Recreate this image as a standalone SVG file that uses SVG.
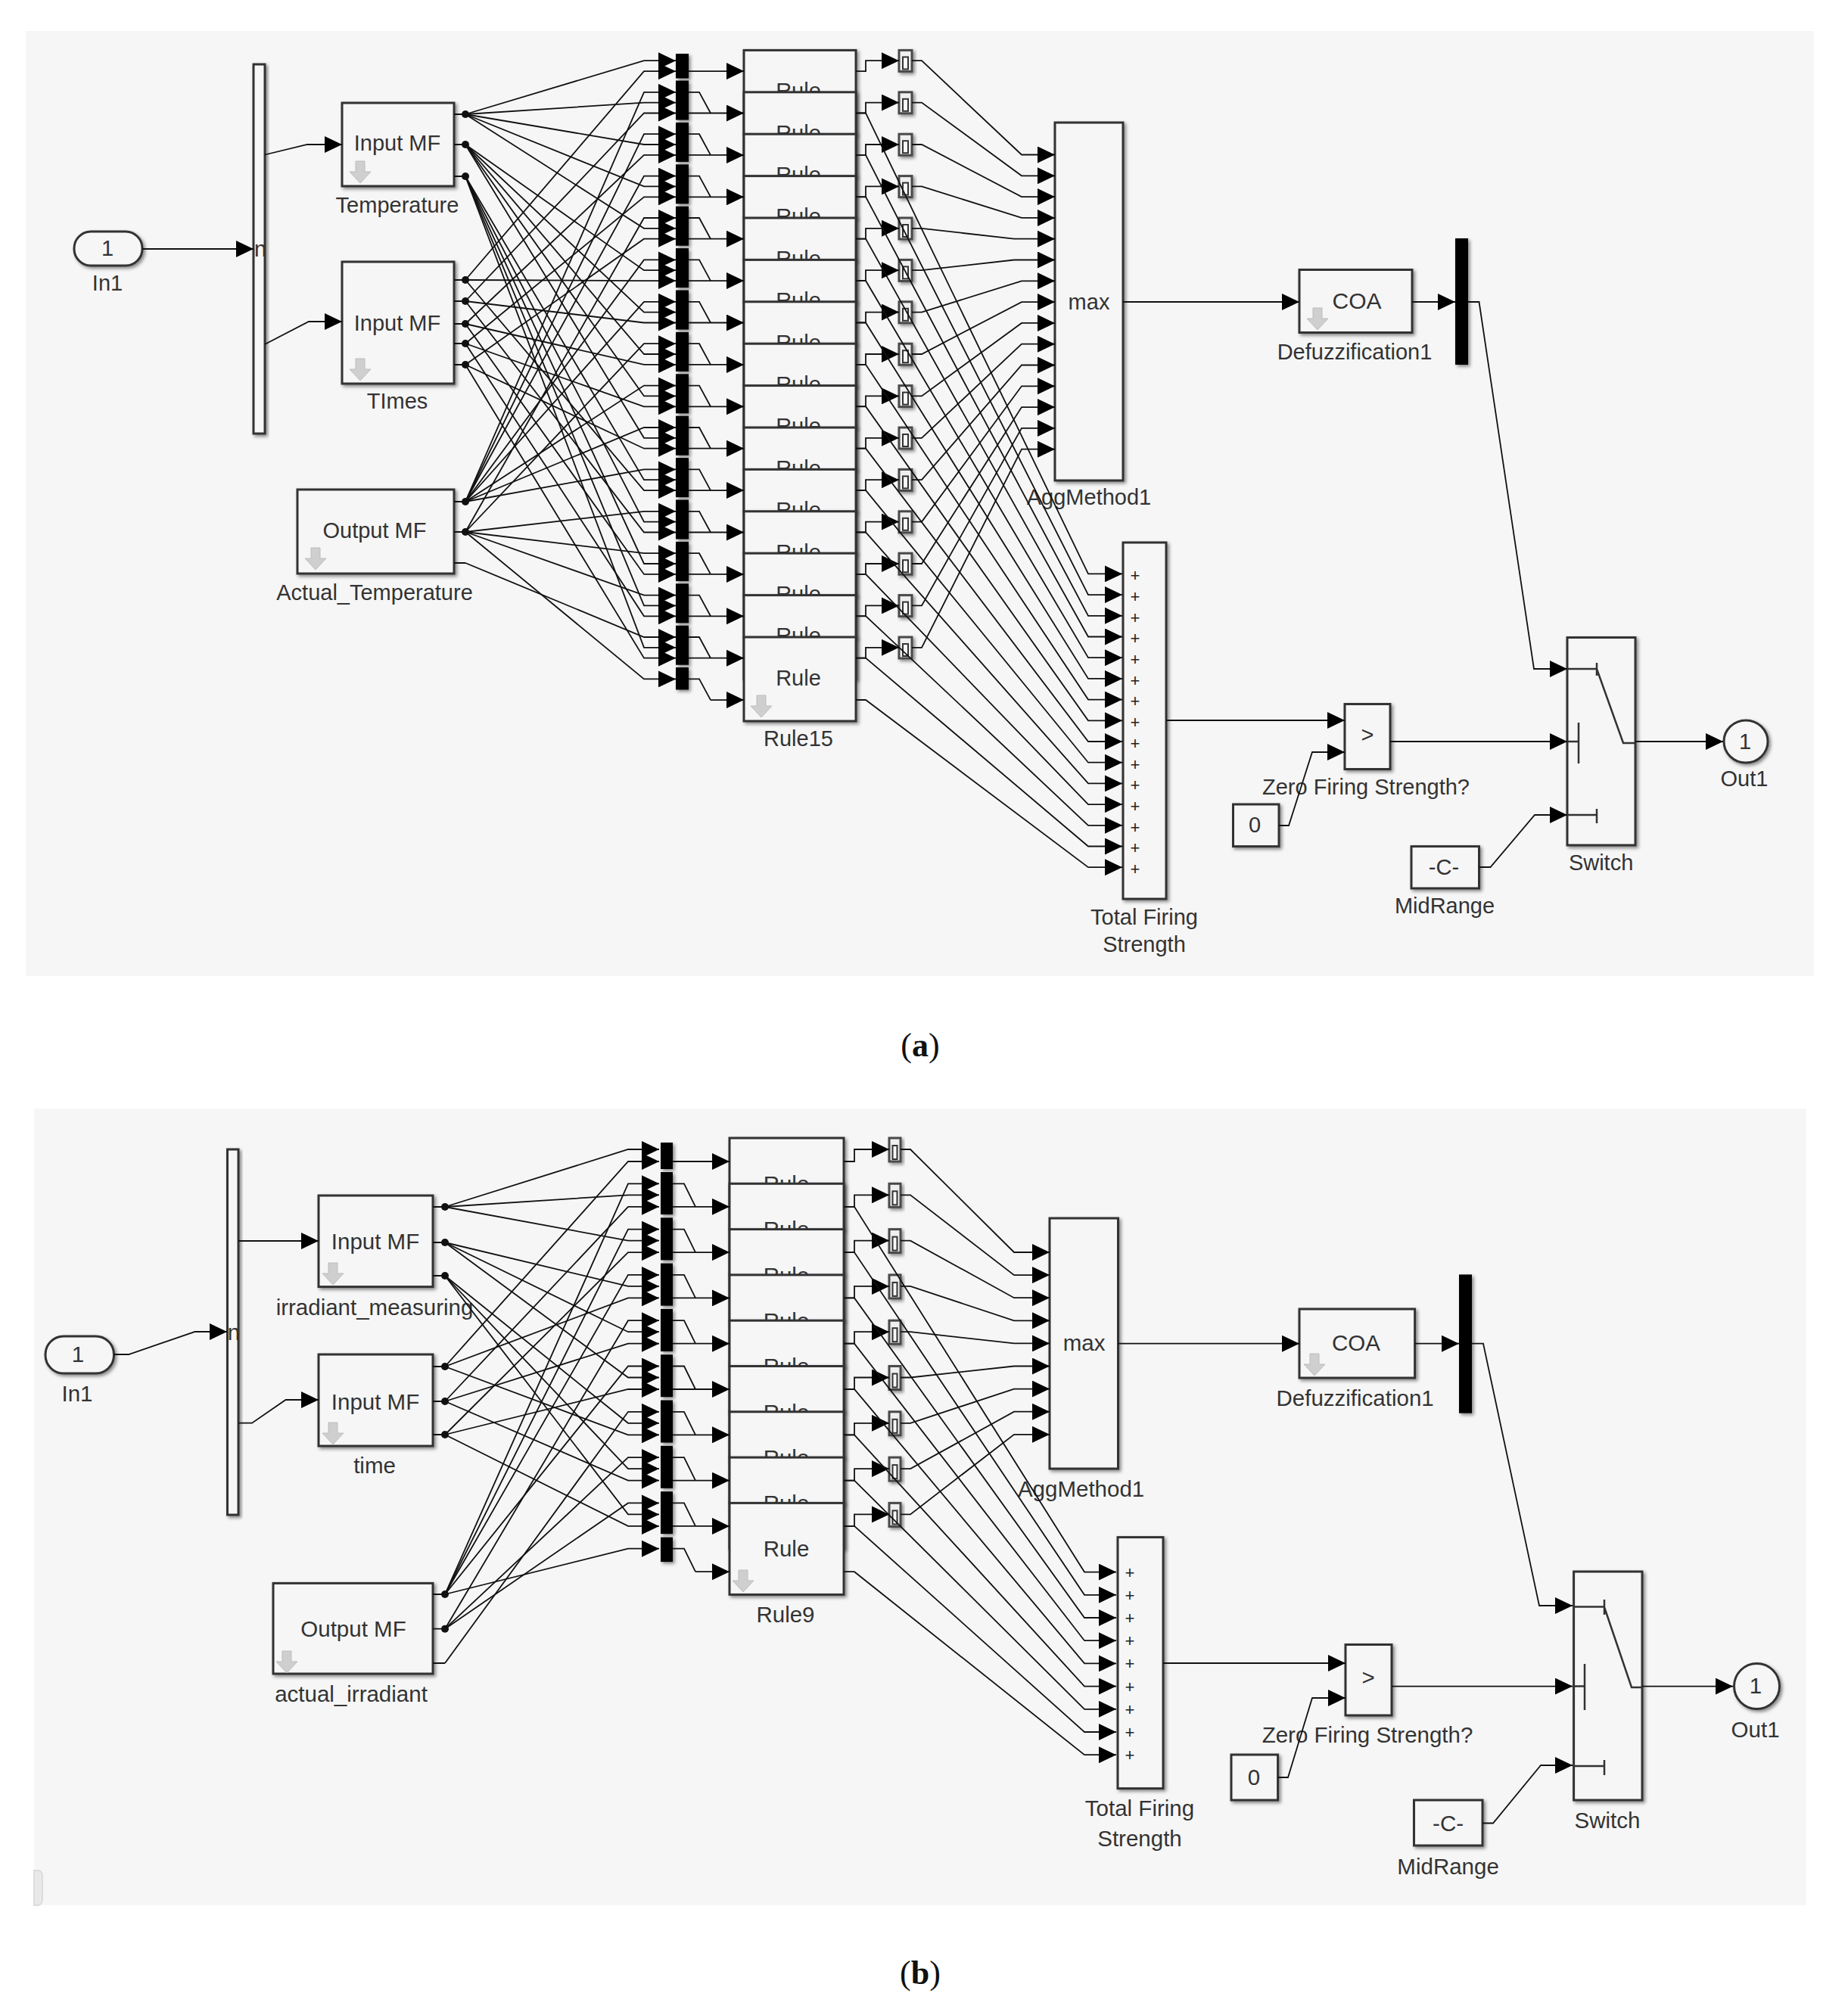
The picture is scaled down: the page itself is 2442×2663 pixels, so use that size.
<svg xmlns="http://www.w3.org/2000/svg" width="2442" height="2663" viewBox="0 0 2442 2663">
<style>
text{font-family:"Liberation Sans",Arial,sans-serif;font-size:28px;fill:#333;text-anchor:middle}
#a-nodes text{font-size:29px}
#b-nodes text{font-size:29.500px}
#a-nodes .pl,#b-nodes .pl{font-size:22px;fill:#222}
.cap{font-family:"Liberation Serif","Times New Roman",serif;font-size:44px;fill:#111}
.cap tspan{font-weight:bold}
.p{fill:#f6f6f6}
.b{fill:#f6f6f6;stroke:#333;stroke-width:3;filter:url(#sh)}
.k{fill:#000;filter:url(#sh)}
.s{fill:#efefef;stroke:#4a4a4a;stroke-width:3;filter:url(#sh)}
.i{fill:#f8f8f8;stroke:#333;stroke-width:2}
.c path,.sw{fill:none;stroke:#111;stroke-width:1.8}
.a path{marker-end:url(#ar)}
.ic{fill:#cfcfcf;stroke:#bdbdbd;stroke-width:1}
.sw{stroke:#333;stroke-width:2.5}
.c circle{fill:#111}
</style>
<defs>
<filter id="sh" x="-30%" y="-30%" width="170%" height="170%"><feDropShadow dx="2.5" dy="2.5" stdDeviation="2" flood-color="#000" flood-opacity=".45"/></filter>
<marker id="ar" markerUnits="userSpaceOnUse" markerWidth="24" markerHeight="22" refX="23" refY="11" orient="auto"><path d="M0 0L23 11L0 22z" fill="#000"/></marker>
<polygon id="d" class="ic" points="-6,0 6,0 6,14 14,14 0,29 -14,14 -6,14"/>
<g id="wa"><rect class="s" width="17" height="28"/><rect class="i" x="5" y="9" width="7" height="16"/></g>
<g id="wb"><rect class="s" width="15" height="31"/><rect class="i" x="4.500" y="10" width="6" height="18"/></g>
</defs>

<g id="panels">
<rect class="p" x="34" y="41" width="2363" height="1249"/>
<rect class="p" x="45" y="1465" width="2342" height="1053"/>
<path d="M45 2472H50Q56 2472 56 2480V2510Q56 2517 50 2518H45z" fill="#e9e9e9" stroke="#dcdcdc" stroke-width="2"/>
</g>

<g id="a-nodes">
<g id="a-in1"><rect class="b" x="98" y="306" width="90" height="45" rx="22"/><text x="142" y="338">1</text><text x="142" y="384">In1</text></g>
<g id="a-mux"><rect class="b" x="335" y="85" width="15" height="488"/><text x="344" y="339">n</text></g>
<g id="a-temperature"><rect class="b" x="452" y="136" width="148" height="110"/><text x="525" y="199">Input MF</text><use href="#d" x="476" y="213"/><text x="525" y="281">Temperature</text></g>
<g id="a-times"><rect class="b" x="452" y="346" width="148" height="161"/><text x="525" y="437">Input MF</text><use href="#d" x="476" y="474"/><text x="525" y="540">TImes</text></g>
<g id="a-output"><rect class="b" x="393" y="647" width="207" height="111"/><text x="495" y="711">Output MF</text><use href="#d" x="417" y="724"/><text x="495" y="793">Actual_Temperature</text></g>

<g id="a-bar1"><rect class="k" x="893" y="71" width="17" height="32.500"/></g>
<g id="a-bar2"><rect class="k" x="893" y="106.500" width="17" height="52"/></g>
<g id="a-bar3"><rect class="k" x="893" y="161.900" width="17" height="52"/></g>
<g id="a-bar4"><rect class="k" x="893" y="217.300" width="17" height="52"/></g>
<g id="a-bar5"><rect class="k" x="893" y="272.700" width="17" height="52"/></g>
<g id="a-bar6"><rect class="k" x="893" y="328.100" width="17" height="52"/></g>
<g id="a-bar7"><rect class="k" x="893" y="383.500" width="17" height="52"/></g>
<g id="a-bar8"><rect class="k" x="893" y="438.900" width="17" height="52"/></g>
<g id="a-bar9"><rect class="k" x="893" y="494.300" width="17" height="52"/></g>
<g id="a-bar10"><rect class="k" x="893" y="549.700" width="17" height="52"/></g>
<g id="a-bar11"><rect class="k" x="893" y="605.100" width="17" height="52"/></g>
<g id="a-bar12"><rect class="k" x="893" y="660.500" width="17" height="52"/></g>
<g id="a-bar13"><rect class="k" x="893" y="715.900" width="17" height="52"/></g>
<g id="a-bar14"><rect class="k" x="893" y="771.300" width="17" height="52"/></g>
<g id="a-bar15"><rect class="k" x="893" y="826.700" width="17" height="52"/></g>
<g id="a-bar16"><rect class="k" x="893" y="882" width="17" height="29.500"/></g>

<g id="a-rule1"><rect class="b" x="983" y="66.400" width="148" height="111"/><text x="1055" y="130.100">Rule</text></g>
<g id="a-rule2"><rect class="b" x="983" y="121.800" width="148" height="111"/><text x="1055" y="185.500">Rule</text></g>
<g id="a-rule3"><rect class="b" x="983" y="177.200" width="148" height="111"/><text x="1055" y="240.900">Rule</text></g>
<g id="a-rule4"><rect class="b" x="983" y="232.600" width="148" height="111"/><text x="1055" y="296.300">Rule</text></g>
<g id="a-rule5"><rect class="b" x="983" y="288" width="148" height="111"/><text x="1055" y="351.700">Rule</text></g>
<g id="a-rule6"><rect class="b" x="983" y="343.400" width="148" height="111"/><text x="1055" y="407.100">Rule</text></g>
<g id="a-rule7"><rect class="b" x="983" y="398.800" width="148" height="111"/><text x="1055" y="462.500">Rule</text></g>
<g id="a-rule8"><rect class="b" x="983" y="454.200" width="148" height="111"/><text x="1055" y="517.900">Rule</text></g>
<g id="a-rule9"><rect class="b" x="983" y="509.600" width="148" height="111"/><text x="1055" y="573.300">Rule</text></g>
<g id="a-rule10"><rect class="b" x="983" y="565" width="148" height="111"/><text x="1055" y="628.700">Rule</text></g>
<g id="a-rule11"><rect class="b" x="983" y="620.400" width="148" height="111"/><text x="1055" y="684.100">Rule</text></g>
<g id="a-rule12"><rect class="b" x="983" y="675.800" width="148" height="111"/><text x="1055" y="739.500">Rule</text></g>
<g id="a-rule13"><rect class="b" x="983" y="731.200" width="148" height="111"/><text x="1055" y="794.900">Rule</text></g>
<g id="a-rule14"><rect class="b" x="983" y="786.600" width="148" height="111"/><text x="1055" y="850.300">Rule</text></g>
<g id="a-rule15"><rect class="b" x="983" y="842" width="148" height="111"/><text x="1055" y="905.700">Rule</text><use href="#d" x="1006" y="919"/><text x="1055" y="986">Rule15</text></g>

<g id="a-w1"><use href="#wa" x="1188" y="66.400"/></g>
<g id="a-w2"><use href="#wa" x="1188" y="121.800"/></g>
<g id="a-w3"><use href="#wa" x="1188" y="177.200"/></g>
<g id="a-w4"><use href="#wa" x="1188" y="232.600"/></g>
<g id="a-w5"><use href="#wa" x="1188" y="288"/></g>
<g id="a-w6"><use href="#wa" x="1188" y="343.400"/></g>
<g id="a-w7"><use href="#wa" x="1188" y="398.800"/></g>
<g id="a-w8"><use href="#wa" x="1188" y="454.200"/></g>
<g id="a-w9"><use href="#wa" x="1188" y="509.600"/></g>
<g id="a-w10"><use href="#wa" x="1188" y="565"/></g>
<g id="a-w11"><use href="#wa" x="1188" y="620.400"/></g>
<g id="a-w12"><use href="#wa" x="1188" y="675.800"/></g>
<g id="a-w13"><use href="#wa" x="1188" y="731.200"/></g>
<g id="a-w14"><use href="#wa" x="1188" y="786.600"/></g>
<g id="a-w15"><use href="#wa" x="1188" y="842"/></g>

<g id="a-max"><rect class="b" x="1394" y="162" width="90" height="473"/><text x="1439" y="409">max</text><text x="1439" y="667">AggMethod1</text></g>
<g id="a-total"><rect class="b" x="1484" y="717" width="57" height="471"/>
<text class="pl" x="1500" y="768">+</text><text class="pl" x="1500" y="796">+</text><text class="pl" x="1500" y="824">+</text><text class="pl" x="1500" y="851">+</text><text class="pl" x="1500" y="879">+</text><text class="pl" x="1500" y="907">+</text><text class="pl" x="1500" y="934">+</text><text class="pl" x="1500" y="962">+</text><text class="pl" x="1500" y="990">+</text><text class="pl" x="1500" y="1018">+</text><text class="pl" x="1500" y="1045">+</text><text class="pl" x="1500" y="1073">+</text><text class="pl" x="1500" y="1101">+</text><text class="pl" x="1500" y="1128">+</text><text class="pl" x="1500" y="1156">+</text>
<text x="1512" y="1222">Total Firing</text><text x="1512" y="1258">Strength</text></g>
<g id="a-coa"><rect class="b" x="1717" y="356.500" width="149" height="83"/><text x="1793" y="407.500" style="font-size:30px">COA</text><use href="#d" x="1741" y="407"/><text x="1790" y="474.500">Defuzzification1</text></g>
<g id="a-bar"><rect class="k" x="1923" y="315" width="17" height="167"/></g>
<g id="a-zero"><rect class="b" x="1777" y="930.500" width="60" height="86"/><text x="1807" y="981">&gt;</text><text x="1805" y="1050">Zero Firing Strength?</text></g>
<g id="a-const0"><rect class="b" x="1629.500" y="1063" width="60.500" height="55.600"/><text x="1658" y="1099.500">0</text></g>
<g id="a-midrange"><rect class="b" x="1865" y="1118.600" width="89.500" height="55.400"/><text x="1908" y="1155.600">-C-</text><text x="1909" y="1206.600">MidRange</text></g>
<g id="a-switch"><rect class="b" x="2071" y="842.500" width="90" height="274.500"/><path class="sw" d="M2071 884H2110M2110 876V893M2110 884L2145 982H2161M2071 980H2086M2086 955V1009M2071 1077H2110M2110 1069V1088"/><text x="2115.600" y="1150">Switch</text></g>
<g id="a-out1"><ellipse class="b" cx="2307" cy="980" rx="29" ry="28"/><text x="2306" y="990">1</text><text x="2305" y="1039">Out1</text></g>
</g>

<g id="a-connectors" class="c">
<path d="M600 151H615M600 191H615M600 233H615M600 370H615M600 398H615M600 428H615M600 454H615M600 482H615M600 663H615M600 703H615M600 744H615"/>
<circle cx="615" cy="151" r="5"/><circle cx="615" cy="191" r="5"/><circle cx="615" cy="233" r="5"/><circle cx="615" cy="370" r="5"/><circle cx="615" cy="398" r="5"/><circle cx="615" cy="428" r="5"/><circle cx="615" cy="454" r="5"/><circle cx="615" cy="482" r="5"/><circle cx="615" cy="663" r="5"/><circle cx="615" cy="703" r="5"/>
<path d="M910 121.800H924L939 149.500M910 177.200H924L939 204.900M910 232.600H924L939 260.300M910 288H924L939 315.700M910 343.400H924L939 371.100M910 398.800H924L939 426.500M910 454.200H924L939 481.900M910 509.600H924L939 537.300M910 565H924L939 592.700M910 620.400H924L939 648.100M910 675.800H924L939 703.500M910 731.200H924L939 758.900M910 786.600H924L939 814.300M910 842H924L939 869.700M910 897.400H924L939 925.100"/>
<g class="a">
<path d="M188 329H335"/>
<path d="M350 204.500L406 191H452"/>
<path d="M350 455L408 425H452"/>
<path d="M615 151L851 80.200H893"/><path d="M615 370L851 94.200H893"/><path d="M615 663L851 121.800H893"/>
<path d="M615 151L851 135.600H893"/><path d="M615 398L851 149.500H893"/><path d="M615 663L851 177.200H893"/>
<path d="M615 151L851 191H893"/><path d="M615 428L851 204.900H893"/><path d="M615 663L851 232.600H893"/>
<path d="M615 151L851 246.400H893"/><path d="M615 454L851 260.300H893"/><path d="M615 703L851 288H893"/>
<path d="M615 151L851 301.800H893"/><path d="M615 482L851 315.700H893"/><path d="M615 663L851 343.400H893"/>
<path d="M615 191L851 357.200H893"/><path d="M615 370L851 371.100H893"/><path d="M615 663L851 398.800H893"/>
<path d="M615 191L851 412.600H893"/><path d="M615 398L851 426.500H893"/><path d="M615 703L851 454.200H893"/>
<path d="M615 191L851 468H893"/><path d="M615 428L851 481.900H893"/><path d="M615 663L851 509.600H893"/>
<path d="M615 191L851 523.400H893"/><path d="M615 454L851 537.300H893"/><path d="M615 663L851 565H893"/>
<path d="M615 191L851 578.800H893"/><path d="M615 482L851 592.700H893"/><path d="M615 663L851 620.400H893"/>
<path d="M615 233L851 634.200H893"/><path d="M615 370L851 648.100H893"/><path d="M615 703L851 675.800H893"/>
<path d="M615 233L851 689.600H893"/><path d="M615 398L851 703.500H893"/><path d="M615 703L851 731.200H893"/>
<path d="M615 233L851 745H893"/><path d="M615 428L851 758.900H893"/><path d="M615 703L851 786.600H893"/>
<path d="M615 233L851 800.400H893"/><path d="M615 454L851 814.300H893"/><path d="M615 744L851 842H893"/>
<path d="M615 233L851 855.800H893"/><path d="M615 482L851 869.700H893"/><path d="M615 703L851 897.400H893"/>
<path d="M910 94.100H983"/><path d="M910 149.500H983"/><path d="M910 204.900H983"/><path d="M910 260.300H983"/><path d="M910 315.700H983"/><path d="M910 371.100H983"/><path d="M910 426.500H983"/><path d="M910 481.900H983"/><path d="M910 537.300H983"/><path d="M910 592.700H983"/><path d="M910 648.100H983"/><path d="M910 703.500H983"/><path d="M910 758.900H983"/><path d="M910 814.300H983"/><path d="M910 869.700H983"/><path d="M939 925.100H983"/>
<path d="M1131 94.100H1144V80.200H1188"/><path d="M1131 149.500H1144V135.600H1188"/><path d="M1131 204.900H1144V191H1188"/><path d="M1131 260.300H1144V246.400H1188"/><path d="M1131 315.700H1144V301.800H1188"/><path d="M1131 371.100H1144V357.200H1188"/><path d="M1131 426.500H1144V412.600H1188"/><path d="M1131 481.900H1144V468H1188"/><path d="M1131 537.300H1144V523.400H1188"/><path d="M1131 592.700H1144V578.800H1188"/><path d="M1131 648.100H1144V634.200H1188"/><path d="M1131 703.500H1144V689.600H1188"/><path d="M1131 758.900H1144V745H1188"/><path d="M1131 814.300H1144V800.400H1188"/><path d="M1131 869.700H1144V855.800H1188"/>
<path d="M1205 80.200H1218L1350 204.500H1394"/><path d="M1205 135.600H1218L1350 232.300H1394"/><path d="M1205 191H1218L1350 260.100H1394"/><path d="M1205 246.400H1218L1350 287.900H1394"/><path d="M1205 301.800H1218L1340 315.700H1394"/><path d="M1205 357.200H1218L1340 343.500H1394"/><path d="M1205 412.600H1218L1350 371.300H1394"/><path d="M1205 468H1218L1350 399.100H1394"/><path d="M1205 523.400H1218L1350 426.900H1394"/><path d="M1205 578.800H1218L1350 454.700H1394"/><path d="M1205 634.200H1218L1350 482.500H1394"/><path d="M1205 689.600H1218L1350 510.300H1394"/><path d="M1205 745H1218L1350 538.100H1394"/><path d="M1205 800.400H1218L1350 565.900H1394"/><path d="M1205 855.800H1218L1350 593.700H1394"/>
<path d="M1131 149.400H1144L1438 758.400H1483"/><path d="M1131 204.800H1144L1438 786.100H1483"/><path d="M1131 260.200H1144L1438 813.800H1483"/><path d="M1131 315.600H1144L1438 841.500H1483"/><path d="M1131 371H1144L1438 869.200H1483"/><path d="M1131 426.400H1144L1438 896.900H1483"/><path d="M1131 481.800H1144L1438 924.600H1483"/><path d="M1131 537.200H1144L1438 952.300H1483"/><path d="M1131 592.600H1144L1438 980H1483"/><path d="M1131 648H1144L1438 1007.700H1483"/><path d="M1131 703.400H1144L1438 1035.400H1483"/><path d="M1131 758.800H1144L1438 1063.100H1483"/><path d="M1131 814.200H1144L1438 1090.800H1483"/><path d="M1131 869.600H1144L1438 1118.500H1483"/><path d="M1131 925H1144L1438 1146.200H1483"/>
<path d="M1484 399H1717"/>
<path d="M1866 399H1923"/>
<path d="M1940 399H1954.500L2027 884H2071"/>
<path d="M1541 952H1777"/>
<path d="M1690 1091H1703L1734 994H1777"/>
<path d="M1837 980H2071"/>
<path d="M1954.500 1146H1969.500L2028 1077H2071"/>
<path d="M2161 980H2277"/>
</g>
</g>

<g id="b-nodes">
<g id="b-in1"><rect class="b" x="60" y="1766" width="90.500" height="49" rx="24"/><text x="103" y="1800">1</text><text x="102" y="1851.600">In1</text></g>
<g id="b-mux"><rect class="b" x="300.500" y="1519" width="14.500" height="483"/><text x="309" y="1771">n</text></g>
<g id="b-irr"><rect class="b" x="421" y="1580" width="151" height="120.600"/><text x="496" y="1651">Input MF</text><use href="#d" x="440" y="1669"/><text x="495" y="1738">irradiant_measuring</text></g>
<g id="b-time"><rect class="b" x="421" y="1790" width="151" height="121"/><text x="496" y="1863">Input MF</text><use href="#d" x="440" y="1880"/><text x="495" y="1947">time</text></g>
<g id="b-output"><rect class="b" x="361" y="2092.400" width="211" height="119.600"/><text x="467" y="2163">Output MF</text><use href="#d" x="379" y="2182"/><text x="464" y="2249">actual_irradiant</text></g>

<g id="b-bar1"><rect class="k" x="873" y="1510" width="16" height="35"/></g>
<g id="b-bar2"><rect class="k" x="873" y="1549" width="16" height="56"/></g>
<g id="b-bar3"><rect class="k" x="873" y="1609.300" width="16" height="56"/></g>
<g id="b-bar4"><rect class="k" x="873" y="1669.600" width="16" height="56"/></g>
<g id="b-bar5"><rect class="k" x="873" y="1729.900" width="16" height="56"/></g>
<g id="b-bar6"><rect class="k" x="873" y="1790.200" width="16" height="56"/></g>
<g id="b-bar7"><rect class="k" x="873" y="1850.500" width="16" height="56"/></g>
<g id="b-bar8"><rect class="k" x="873" y="1910.800" width="16" height="56"/></g>
<g id="b-bar9"><rect class="k" x="873" y="1971.100" width="16" height="56"/></g>
<g id="b-bar10"><rect class="k" x="873" y="2031.600" width="16" height="32.500"/></g>

<g id="b-rule1"><rect class="b" x="964" y="1504" width="151" height="120.500"/><text x="1039" y="1575">Rule</text></g>
<g id="b-rule2"><rect class="b" x="964" y="1564.300" width="151" height="120.500"/><text x="1039" y="1635.300">Rule</text></g>
<g id="b-rule3"><rect class="b" x="964" y="1624.600" width="151" height="120.500"/><text x="1039" y="1695.600">Rule</text></g>
<g id="b-rule4"><rect class="b" x="964" y="1684.900" width="151" height="120.500"/><text x="1039" y="1755.900">Rule</text></g>
<g id="b-rule5"><rect class="b" x="964" y="1745.200" width="151" height="120.500"/><text x="1039" y="1816.200">Rule</text></g>
<g id="b-rule6"><rect class="b" x="964" y="1805.500" width="151" height="120.500"/><text x="1039" y="1876.500">Rule</text></g>
<g id="b-rule7"><rect class="b" x="964" y="1865.800" width="151" height="120.500"/><text x="1039" y="1936.800">Rule</text></g>
<g id="b-rule8"><rect class="b" x="964" y="1926.100" width="151" height="120.500"/><text x="1039" y="1997.100">Rule</text></g>
<g id="b-rule9"><rect class="b" x="964" y="1986.400" width="151" height="121"/><text x="1039" y="2057.400">Rule</text><use href="#d" x="982" y="2075"/><text x="1038" y="2144">Rule9</text></g>

<g id="b-w1"><use href="#wb" x="1175" y="1504"/></g>
<g id="b-w2"><use href="#wb" x="1175" y="1564.300"/></g>
<g id="b-w3"><use href="#wb" x="1175" y="1624.600"/></g>
<g id="b-w4"><use href="#wb" x="1175" y="1684.900"/></g>
<g id="b-w5"><use href="#wb" x="1175" y="1745.200"/></g>
<g id="b-w6"><use href="#wb" x="1175" y="1805.500"/></g>
<g id="b-w7"><use href="#wb" x="1175" y="1865.800"/></g>
<g id="b-w8"><use href="#wb" x="1175" y="1926.100"/></g>
<g id="b-w9"><use href="#wb" x="1175" y="1986.400"/></g>

<g id="b-max"><rect class="b" x="1387" y="1610" width="90.500" height="331"/><text x="1432.600" y="1785">max</text><text x="1428.600" y="1977.600">AggMethod1</text></g>
<g id="b-total"><rect class="b" x="1477" y="2031.600" width="60" height="332"/>
<text class="pl" x="1493" y="2086">+</text><text class="pl" x="1493" y="2116">+</text><text class="pl" x="1493" y="2146">+</text><text class="pl" x="1493" y="2176">+</text><text class="pl" x="1493" y="2206">+</text><text class="pl" x="1493" y="2237">+</text><text class="pl" x="1493" y="2267">+</text><text class="pl" x="1493" y="2297">+</text><text class="pl" x="1493" y="2327">+</text>
<text x="1506" y="2400">Total Firing</text><text x="1506" y="2440">Strength</text></g>
<g id="b-coa"><rect class="b" x="1717" y="1730" width="152.600" height="91"/><text x="1792" y="1785">COA</text><use href="#d" x="1737" y="1789"/><text x="1790.600" y="1858">Defuzzification1</text></g>
<g id="b-bar"><rect class="k" x="1928" y="1684.400" width="17" height="183.200"/></g>
<g id="b-zero"><rect class="b" x="1778" y="2173.500" width="61" height="93.500"/><text x="1808" y="2227">&gt;</text><text x="1807" y="2303">Zero Firing Strength?</text></g>
<g id="b-const0"><rect class="b" x="1627" y="2319" width="61.600" height="60"/><text x="1657" y="2359">0</text></g>
<g id="b-midrange"><rect class="b" x="1868.500" y="2379" width="90.500" height="60"/><text x="1913.600" y="2420">-C-</text><text x="1913.600" y="2476.600">MidRange</text></g>
<g id="b-switch"><rect class="b" x="2079.600" y="2077" width="90.400" height="302"/><path class="sw" d="M2079.600 2123.600H2120M2120 2114V2134M2120 2124L2156 2230H2170M2079.600 2228.600H2094M2094 2199V2260M2079.600 2334H2120M2120 2326V2346"/><text x="2124" y="2416">Switch</text></g>
<g id="b-out1"><circle class="b" cx="2321.500" cy="2228.500" r="30"/><text x="2320" y="2238">1</text><text x="2319.600" y="2296">Out1</text></g>
</g>

<g id="b-connectors" class="c">
<path d="M572 1595H588M572 1642H588M572 1686H588M572 1806H588M572 1852H588M572 1896H588M572 2107H588M572 2152.700H588M572 2198H588"/>
<circle cx="588" cy="1595" r="5"/><circle cx="588" cy="1642" r="5"/><circle cx="588" cy="1686" r="5"/><circle cx="588" cy="1806" r="5"/><circle cx="588" cy="1852" r="5"/><circle cx="588" cy="1896" r="5"/><circle cx="588" cy="2107" r="5"/><circle cx="588" cy="2152.700" r="5"/>
<path d="M889 1564.300H904L919 1594.800M889 1624.600H904L919 1655.100M889 1684.900H904L919 1715.400M889 1745.200H904L919 1775.700M889 1805.500H904L919 1836M889 1865.800H904L919 1896.300M889 1926.100H904L919 1956.600M889 1986.400H904L919 2016.900M889 2046.700H904L919 2077.200"/>
<g class="a">
<path d="M150.500 1790H170L257.600 1760H300"/>
<path d="M315 1640H421"/>
<path d="M315 1880.700H333L377.500 1850H421"/>
<path d="M588 1595L830 1519H871"/><path d="M588 1806L830 1535H871"/><path d="M588 2107L830 1564.300H871"/>
<path d="M588 1595L830 1579.300H871"/><path d="M588 1852L830 1594.800H871"/><path d="M588 2107L830 1624.600H871"/>
<path d="M588 1595L830 1639.600H871"/><path d="M588 1896L830 1655.100H871"/><path d="M588 2107L830 1684.900H871"/>
<path d="M588 1642L830 1699.900H871"/><path d="M588 1806L830 1715.400H871"/><path d="M588 2152.700L830 1745.200H871"/>
<path d="M588 1642L830 1760.200H871"/><path d="M588 1852L830 1775.700H871"/><path d="M588 2107L830 1805.500H871"/>
<path d="M588 1642L830 1820.500H871"/><path d="M588 1896L830 1836H871"/><path d="M588 2198L830 1865.800H871"/>
<path d="M588 1686L830 1880.800H871"/><path d="M588 1806L830 1896.300H871"/><path d="M588 2152.700L830 1926.100H871"/>
<path d="M588 1686L830 1941.100H871"/><path d="M588 1852L830 1956.600H871"/><path d="M588 2152.700L830 1986.400H871"/>
<path d="M588 1686L830 2001.400H871"/><path d="M588 1896L830 2016.900H871"/><path d="M588 2107L830 2046.700H871"/>
<path d="M889 1535H964"/><path d="M889 1594.800H964"/><path d="M889 1655.100H964"/><path d="M889 1715.400H964"/><path d="M889 1775.700H964"/><path d="M889 1836H964"/><path d="M889 1896.300H964"/><path d="M889 1956.600H964"/><path d="M889 2016.900H964"/><path d="M919 2077.200H964"/>
<path d="M1115 1535H1129V1519H1175"/><path d="M1115 1594.800H1129V1579.300H1175"/><path d="M1115 1655.100H1129V1639.600H1175"/><path d="M1115 1715.400H1129V1699.900H1175"/><path d="M1115 1775.700H1129V1760.200H1175"/><path d="M1115 1836H1129V1820.500H1175"/><path d="M1115 1896.300H1129V1880.800H1175"/><path d="M1115 1956.600H1129V1941.100H1175"/><path d="M1115 2016.900H1129V2001.400H1175"/>
<path d="M1190 1519H1203L1340 1655H1387"/><path d="M1190 1579.300H1203L1340 1685.100H1387"/><path d="M1190 1639.600H1203L1340 1715.200H1387"/><path d="M1190 1699.900H1203L1340 1745.300H1387"/><path d="M1190 1760.200H1203L1340 1775.400H1387"/><path d="M1190 1820.500H1203L1340 1805.500H1387"/><path d="M1190 1880.800H1203L1340 1835.600H1387"/><path d="M1190 1941.100H1203L1340 1865.700H1387"/><path d="M1190 2001.400H1203L1340 1895.800H1387"/>
<path d="M1115 1594.800H1129L1433 2077.600H1475"/><path d="M1115 1655.100H1129L1433 2107.800H1475"/><path d="M1115 1715.400H1129L1433 2138H1475"/><path d="M1115 1775.700H1129L1433 2168.200H1475"/><path d="M1115 1836H1129L1433 2198.400H1475"/><path d="M1115 1896.300H1129L1433 2228.600H1475"/><path d="M1115 1956.600H1129L1433 2258.800H1475"/><path d="M1115 2016.900H1129L1433 2289H1475"/><path d="M1115 2077.200H1129L1433 2319.200H1475"/>
<path d="M1477.500 1775.700H1717"/>
<path d="M1869.600 1775.700H1928"/>
<path d="M1945 1775.700H1960L2034 2122H2078"/>
<path d="M1537 2198H1778"/>
<path d="M1688.600 2349H1702L1734 2244H1778"/>
<path d="M1839 2228.600H2078"/>
<path d="M1959 2409.500H1973L2036 2333H2078"/>
<path d="M2170 2228.600H2290"/>
</g>
</g>

<g id="captions">
<text class="cap" x="1216" y="1396">(<tspan>a</tspan>)</text>
<text class="cap" x="1216" y="2622">(<tspan>b</tspan>)</text>
</g>
</svg>
